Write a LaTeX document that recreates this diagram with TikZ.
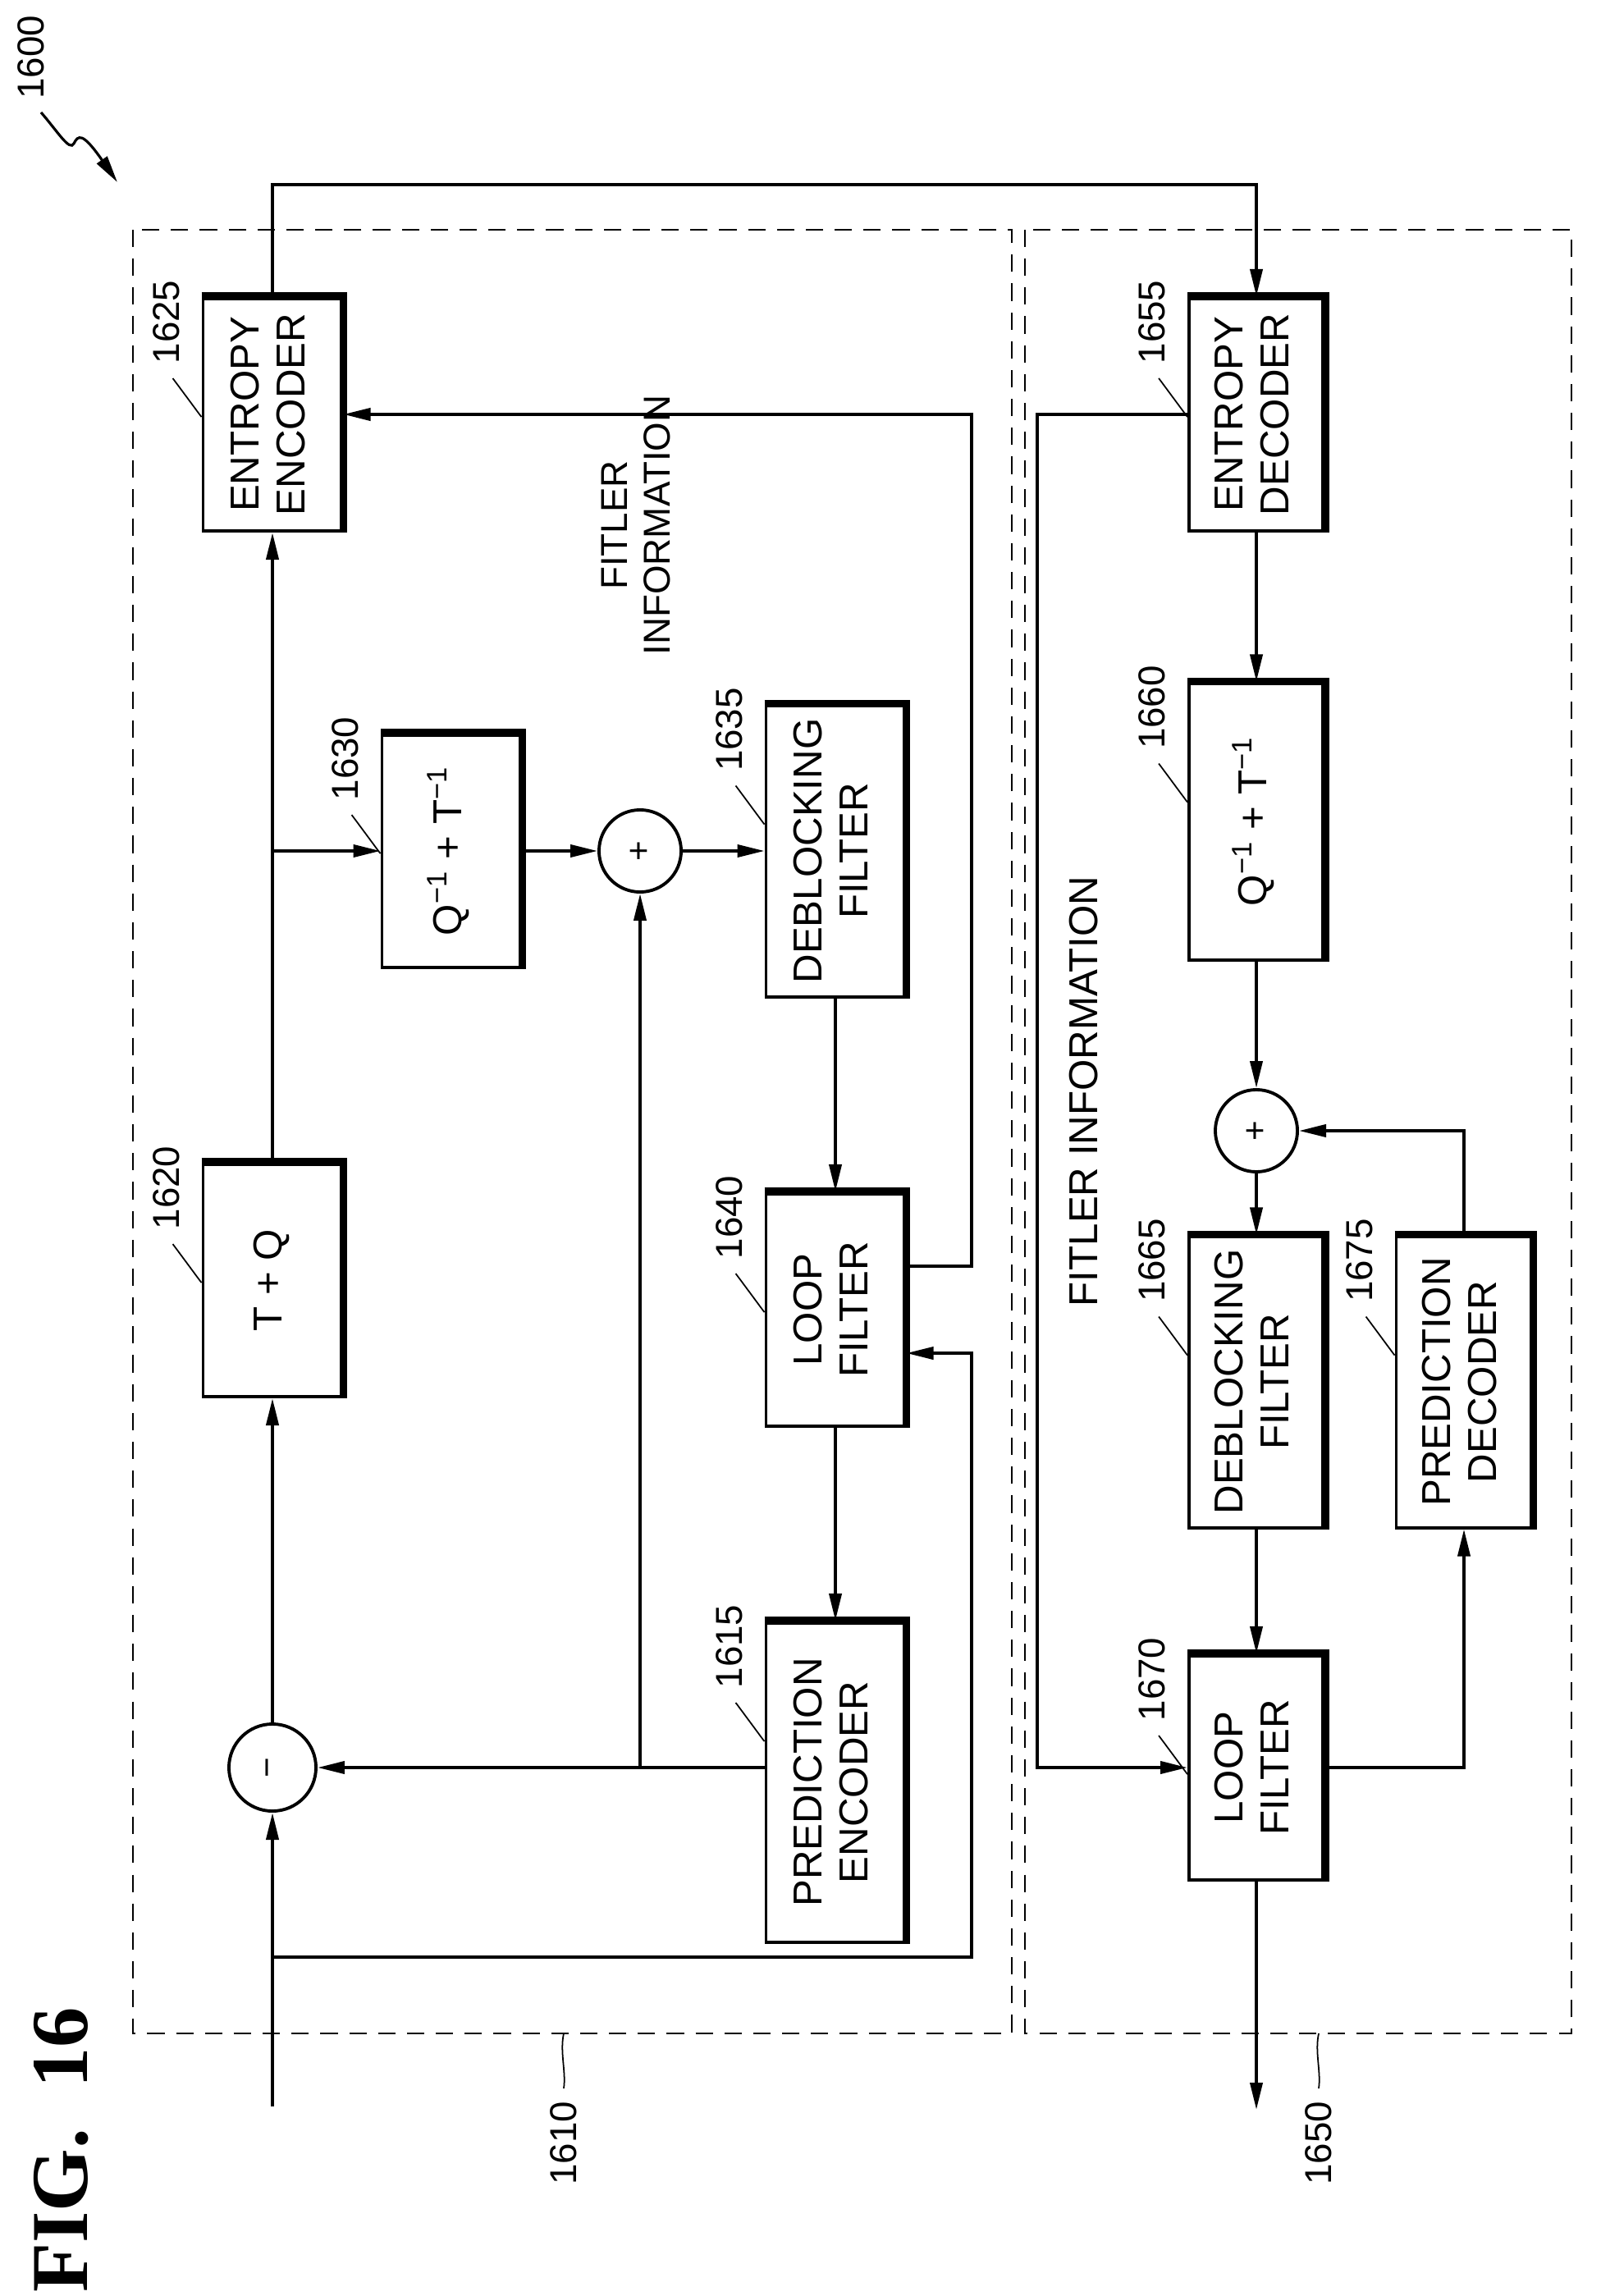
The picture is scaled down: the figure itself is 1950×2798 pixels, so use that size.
\documentclass[tikz,border=0pt]{standalone}
\usepackage{fontspec}
\setmainfont{Liberation Sans}
\usepackage{graphicx}
\usetikzlibrary{arrows.meta,calc,positioning}

\newcommand{\rtext}[1]{\rotatebox{90}{\begin{tabular}{@{}c@{}}#1\end{tabular}}}
\newcommand{\refno}[3]{%
  \node[num] (#1) at ([xshift=-0.43cm,yshift=0.2cm]#2.north west) {\rotatebox{90}{#3}};
  \draw[lead] ([xshift=-0.35cm,yshift=-1.0cm]#2.north west) .. controls +(0.1,-0.2) and +(-0.05,0.25) .. ([yshift=-1.47cm]#2.north west);}

\begin{document}
\begin{tikzpicture}[x=0.01cm,y=-0.01cm,>={Triangle[length=3.3mm,width=1.5mm]},
  blk/.style={draw,line width=1.1pt,minimum width=1.69cm,font=\fontsize{14}{16}\selectfont,inner sep=0pt},
  sumc/.style={draw,circle,line width=1.1pt,minimum size=1.0cm,inner sep=0pt,font=\fontsize{12}{12}\selectfont},
  num/.style={font=\fontsize{13}{13}\selectfont,inner sep=0pt,anchor=north},
  lead/.style={line width=0.5pt},
  wire/.style={line width=1.1pt},
  frame/.style={dashed,line width=0.7pt,dash pattern=on 6pt off 4pt}]
  \useasboundingbox (0,0) rectangle (1950,2798);

  % dashed frames
  \draw[frame] (162,280) rectangle (1233,2478);
  \draw[frame] (1249,280) rectangle (1915,2478);

  % encoder side
  \node[blk,minimum height=2.84cm] (enc) at (332,505) {\rtext{ENTROPY\\ENCODER}};
  \node[blk,minimum height=2.84cm] (tq) at (332,1560) {\rtext{T + Q}};
  \node[blk,minimum height=2.84cm] (iq) at (550,1037) {\rtext{Q\textsuperscript{−1} + T\textsuperscript{−1}}};
  \node[sumc] (add) at (780,1037) {\rotatebox{90}{+}};
  \node[blk,minimum height=3.55cm] (dbf) at (1018,1037) {\rtext{DEBLOCKING\\FILTER}};
  \node[blk,minimum height=2.84cm] (lpf) at (1018,1596) {\rtext{LOOP\\FILTER}};
  \node[blk,minimum height=3.9cm] (pen) at (1018,2172) {\rtext{PREDICTION\\ENCODER}};
  \node[sumc,minimum size=1.06cm] (sub) at (332,2154) {\rotatebox{90}{−}};

  % decoder side
  \node[blk,minimum width=1.64cm,minimum height=2.84cm] (dec) at (1531,505) {\rtext{ENTROPY\\DECODER}};
  \node[blk,minimum width=1.64cm,minimum height=3.37cm] (diq) at (1531,1001) {\rtext{Q\textsuperscript{−1} + T\textsuperscript{−1}}};
  \node[sumc] (dadd) at (1531,1378) {\rotatebox{90}{+}};
  \node[blk,minimum width=1.64cm,minimum height=3.55cm] (ddbf) at (1531,1684) {\rtext{DEBLOCKING\\FILTER}};
  \node[blk,minimum width=1.65cm,minimum height=3.55cm] (pdec) at (1784,1684) {\rtext{PREDICTION\\DECODER}};
  \node[blk,minimum width=1.64cm,minimum height=2.74cm] (dlpf) at (1531,2154) {\rtext{LOOP\\FILTER}};

  % heavy top and right edges
  \foreach \b in {enc,tq,iq,dbf,lpf,pen,dec,diq,ddbf,pdec,dlpf}
    \draw[line width=2.8pt] (\b.north west) -- (\b.north east) -- (\b.south east);

  % reference numbers
  \refno{n1625}{enc}{1625}
  \refno{n1620}{tq}{1620}
  \refno{n1630}{iq}{1630}
  \refno{n1635}{dbf}{1635}
  \refno{n1640}{lpf}{1640}
  \refno{n1615}{pen}{1615}
  \refno{n1655}{dec}{1655}
  \refno{n1660}{diq}{1660}
  \refno{n1665}{ddbf}{1665}
  \refno{n1675}{pdec}{1675}
  \refno{n1670}{dlpf}{1670}

  \coordinate (in) at (332,2567);
  \coordinate (out) at (1531,2571);
  \coordinate (br) at (332,2385);
  \coordinate (qb) at (332,1037);
  \coordinate (pb) at (780,2154);

  % encoder connectors
  \draw[wire,->] (in) -- (sub);
  \draw[wire,->] (br) -- (1184,2385) |- ([yshift=-0.53cm]lpf.east);
  \draw[wire,->] (sub) -- (tq);
  \draw[wire,->] (tq) -- (enc);
  \draw[wire,->] (qb) -- (iq);
  \draw[wire,->] (iq) -- (add);
  \draw[wire,->] (add) -- (dbf);
  \draw[wire,->] (pen.west |- sub) -- (sub);
  \draw[wire,->] (pb) -- (add);
  \draw[wire,->] (dbf) -- (lpf);
  \draw[wire,->] (lpf) -- (pen);
  \draw[wire,->] ([yshift=0.53cm]lpf.east) -- (1184,1543) |- (enc.east);
  \draw[wire,->] (enc.north) |- (1531,225) -- (dec.north);

  % decoder connectors
  \draw[wire,->] (dec.west) -- (1264,505) |- (dlpf.west);
  \draw[wire,->] (dec) -- (diq);
  \draw[wire,->] (diq) -- (dadd);
  \draw[wire,->] (dadd) -- (ddbf);
  \draw[wire,->] (ddbf) -- (dlpf);
  \draw[wire,->] (dlpf.east) -| (pdec.south);
  \draw[wire,->] (pdec.north) |- (dadd.east);
  \draw[wire,->] (dlpf) -- (out);

  % texts
  \node[font=\fontsize{13}{15}\selectfont] (finfo1) at (780,640) {\rtext{FITLER\\INFORMATION}};
  \node[font=\fontsize{14}{16}\selectfont] (finfo2) at (1321,1330) {\rotatebox{90}{FITLER INFORMATION}};

  \node[num] (n1610) at (687,2560) {\rotatebox{90}{1610}};
  \draw[lead] (687,2478) .. controls (682,2500) and (690,2525) .. (687,2545);
  \node[num] (n1650) at (1607,2560) {\rotatebox{90}{1650}};
  \draw[lead] (1607,2478) .. controls (1602,2500) and (1610,2525) .. (1607,2545);

  \node[num,anchor=center] (n1600) at (38,70) {\rotatebox{90}{1600}};
  \coordinate (sq) at (143,222);
  \draw[lead,line width=0.9pt,->] (50,137) .. controls (70,160) and (85,185) .. (90,175)
     .. controls (95,165) and (100,160) .. (sq);

  \node[font=\bfseries\rmfamily\fontsize{28}{28}\selectfont] (fig) at (75,2620)
    {\rotatebox{90}{\fontspec{Liberation Serif}FIG.\ \ 16}};
\end{tikzpicture}
\end{document}
